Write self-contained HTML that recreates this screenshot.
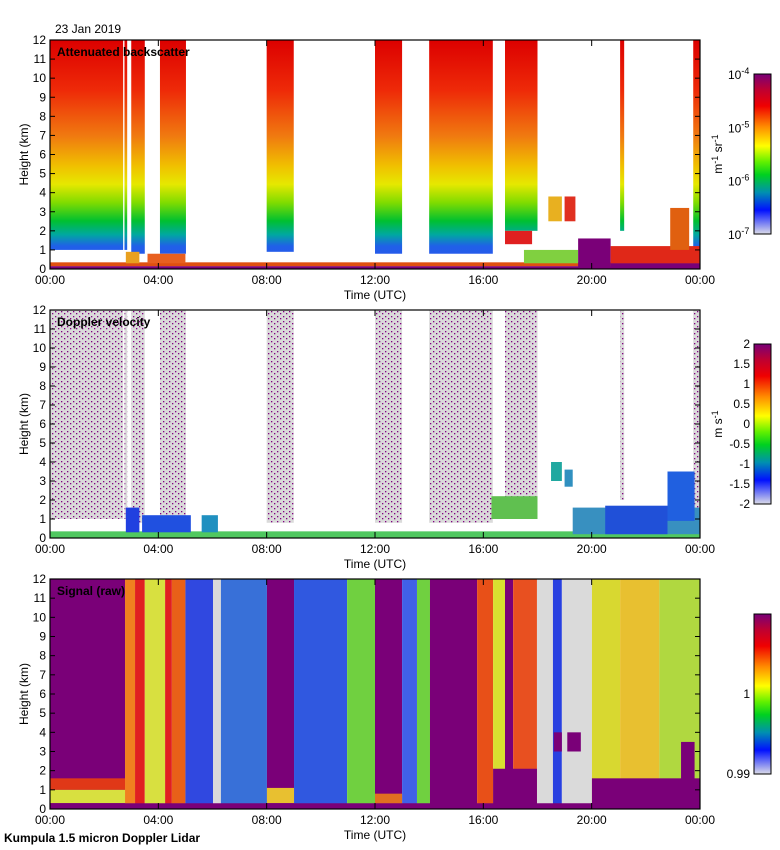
<!DOCTYPE html>
<html><head><meta charset="utf-8">
<style>
html,body{margin:0;padding:0;background:#fff;}
svg{display:block;font-family:"Liberation Sans",sans-serif;}
</style></head>
<body>
<svg id="chart" width="780" height="850" viewBox="0 0 780 850" xmlns="http://www.w3.org/2000/svg">
<defs>
<linearGradient id="bsProfile" gradientUnits="userSpaceOnUse" x1="0" y1="40" x2="0" y2="269">
<stop offset="0" stop-color="#dc0000"/><stop offset="0.22" stop-color="#ee2a08"/>
<stop offset="0.42" stop-color="#f07a10"/><stop offset="0.55" stop-color="#f0c000"/>
<stop offset="0.63" stop-color="#e6e800"/><stop offset="0.71" stop-color="#80dc00"/>
<stop offset="0.79" stop-color="#00c030"/><stop offset="0.85" stop-color="#00a8a0"/>
<stop offset="0.9" stop-color="#2060e8"/><stop offset="1" stop-color="#3050f0"/>
</linearGradient>
<linearGradient id="cbBs" x1="0" y1="0" x2="0" y2="1">
<stop offset="0" stop-color="#780078"/><stop offset="0.1" stop-color="#c00030"/>
<stop offset="0.2" stop-color="#f00000"/><stop offset="0.33" stop-color="#ff8c00"/>
<stop offset="0.45" stop-color="#ffff00"/><stop offset="0.55" stop-color="#60f000"/>
<stop offset="0.63" stop-color="#00d020"/><stop offset="0.74" stop-color="#0090b0"/>
<stop offset="0.85" stop-color="#0010ff"/><stop offset="1" stop-color="#dcdce8"/>
</linearGradient>
<pattern id="dots" width="6" height="5" patternUnits="userSpaceOnUse">
<rect width="6" height="5" fill="#dadada"/><rect x="1" y="1" width="1.3" height="1.3" fill="#800080"/><rect x="4" y="3" width="1.3" height="1.3" fill="#800080"/>
</pattern>
</defs>
<text x="55" y="33" font-size="12">23 Jan 2019</text>
<g id="p1"></g>
<g id="p2"></g>
<g id="p3"></g>
<text x="4" y="842" font-size="12" font-weight="bold">Kumpula 1.5 micron Doppler Lidar</text>
</svg>
<script>
// ---- data (hours, km) ----
const timeTicks = ["00:00","04:00","08:00","12:00","16:00","20:00","00:00"];
const heightTicks = [0,1,2,3,4,5,6,7,8,9,10,11,12];
// backscatter clear-air columns
const bsStart = [0, 2.75, 3.0, 4.06, 8.0, 12.0, 14.0, 16.8, 21.05, 23.75];
const bsEnd   = [2.7, 2.85, 3.5, 5.02, 9.0, 13.0, 16.35, 18.0, 21.2, 24];
const bsBase  = [1.0, 1.0, 0.8, 0.8, 0.9, 0.8, 0.8, 2.0, 2.0, 0.9];
// backscatter blobs
const bbStart = [0, 0, 2.8, 3.6, 16.8, 17.5, 18.4, 19.0, 19.5, 20.7, 20.7, 22.9];
const bbEnd   = [24, 24, 3.3, 5.0, 17.8, 19.5, 18.9, 19.4, 20.7, 24, 24, 23.6];
const bbLow   = [0, 0.15, 0.3, 0.3, 1.3, 0.3, 2.5, 2.5, 0, 0.3, 0, 1.0];
const bbHigh  = [0.15, 0.35, 0.9, 0.8, 2.0, 1.0, 3.8, 3.8, 1.6, 1.2, 0.3, 3.2];
const bbColor = ["#7a0078","#e05010","#e8a020","#e86020","#e02020","#80d040","#e8b020","#e03020","#7a0078","#e02818","#7a0078","#e06010"];
// doppler
const dvStart = [0, 2.75, 3.0, 4.06, 8.0, 12.0, 14.0, 16.8, 21.05, 23.75];
const dvEnd   = [2.7, 2.85, 3.5, 5.02, 9.0, 13.0, 16.35, 18.0, 21.2, 24];
const dvBase  = [1.0, 1.0, 0.8, 0.8, 0.8, 0.8, 0.8, 2.0, 2.0, 0.9];
const dbStart = [0, 2.8, 3.4, 5.6, 16.3, 18.5, 19.0, 19.3, 20.5, 22.8];
const dbEnd   = [24, 3.3, 5.2, 6.2, 18.0, 18.9, 19.3, 24, 22.8, 23.8];
const dbLow   = [0, 0.3, 0.3, 0.3, 1.0, 3.0, 2.7, 0.2, 0.2, 0.9];
const dbHigh  = [0.35, 1.6, 1.2, 1.2, 2.2, 4.0, 3.6, 1.6, 1.7, 3.5];
const dbColor = ["#50c860","#2040e0","#2050e0","#2090c0","#60c050","#20a8a0","#3090c0","#3890c0","#2050d8","#2060e0"];
// signal stripes
const sgStart = [0, 2.77, 3.14, 3.5, 4.25, 4.5, 5.0, 6.02, 6.31, 8.01, 9.01, 10.97, 12.0, 13.0, 13.55, 14.03, 15.77, 16.36, 16.8, 17.1, 17.98, 18.57, 18.9, 20.01, 21.05, 22.5];
const sgEnd   = [2.77, 3.14, 3.5, 4.25, 4.5, 5.0, 6.02, 6.31, 8.01, 9.01, 10.97, 12.0, 13.0, 13.55, 14.03, 15.77, 16.36, 16.8, 17.1, 17.98, 18.57, 18.9, 20.01, 21.05, 22.5, 24];
const sgColor = ["#7a0078","#f08020","#e02020","#d8e040","#e02020","#e86018","#3048e0","#dadada","#3870d8","#7a0078","#3058e0","#70d040","#7a0078","#4060e8","#70d040","#7a0078","#e85018","#d8e030","#7a0078","#e85020","#dadada","#2840e0","#dadada","#d8d830","#e8c030","#b0d840"];
// signal low features
const slStart = [0, 0, 0, 8.01, 8.01, 0, 16.36, 20.01, 23.3, 18.6, 19.1, 12.0];
const slEnd   = [2.77, 2.77, 2.77, 9.01, 9.01, 24, 17.98, 24, 23.8, 18.9, 19.6, 13.0];
const slLow   = [1.0, 0.3, 0.0, 0.3, 0.0, 0, 0, 0, 0, 3.0, 3.0, 0.3];
const slHigh  = [1.6, 1.0, 0.3, 1.1, 0.3, 0.3, 2.1, 1.6, 3.5, 4.0, 4.0, 0.8];
const slColor = ["#e03818","#d8e040","#7a0078","#e8c030","#7a0078","#7a0078","#7a0078","#7a0078","#7a0078","#7a0078","#7a0078","#e07020"];
// colorbars
const cb1Labels = ["-4","-5","-6","-7"];
const cb2Labels = ["2","1.5","1","0.5","0","-0.5","-1","-1.5","-2"];
const cb3Labels = ["1","0.99"];

const NS="http://www.w3.org/2000/svg";
const X0=50, X1=700;
const panels=[{g:"p1",top:40,bot:269,title:"Attenuated backscatter"},{g:"p2",top:310,bot:538,title:"Doppler velocity"},{g:"p3",top:579,bot:809,title:"Signal (raw)"}];
function xs(h){return X0+h*(X1-X0)/24;}
function ys(p,km){return p.bot-km*(p.bot-p.top)/12;}
function mk(parent,tag,attrs){const e=document.createElementNS(NS,tag);for(const k in attrs)e.setAttribute(k,attrs[k]);parent.appendChild(e);return e;}
function box(p,g,h0,h1,k0,k1,fill){
  return mk(g,"rect",{x:xs(h0),y:ys(p,k1),width:xs(h1)-xs(h0),height:ys(p,k0)-ys(p,k1),fill:fill});
}
// panel 1
(function(){const p=panels[0],g=document.getElementById(p.g);
 for(let i=0;i<bsStart.length;i++){const r=box(p,g,bsStart[i],bsEnd[i],bsBase[i],12,"url(#bsProfile)");
  
  }
 for(let i=0;i<bbStart.length;i++){const r=box(p,g,bbStart[i],bbEnd[i],bbLow[i],bbHigh[i],bbColor[i]);
  
  }
})();
// panel 2
(function(){const p=panels[1],g=document.getElementById(p.g);
 for(let i=0;i<dvStart.length;i++){const r=box(p,g,dvStart[i],dvEnd[i],dvBase[i],12,"url(#dots)");
  
  }
 for(let i=0;i<dbStart.length;i++){const r=box(p,g,dbStart[i],dbEnd[i],dbLow[i],dbHigh[i],dbColor[i]);
  
  }
})();
// panel 3
(function(){const p=panels[2],g=document.getElementById(p.g);
 for(let i=0;i<sgStart.length;i++){const r=box(p,g,sgStart[i],sgEnd[i],0,12,sgColor[i]);
  
  }
 for(let i=0;i<slStart.length;i++){const r=box(p,g,slStart[i],slEnd[i],slLow[i],slHigh[i],slColor[i]);
  
  }
})();
// axes
panels.forEach((p,pi)=>{const g=document.getElementById(p.g);
 const fr=mk(g,"rect",{x:X0,y:p.top,width:X1-X0,height:p.bot-p.top,fill:"none",stroke:"#000","stroke-width":1.2});
 
 
 const t=mk(g,"text",{x:57,y:p.top+16,"font-size":12,"font-weight":"bold"});t.textContent=p.title;
 
 
 heightTicks.forEach(k=>{const y=ys(p,k);
  mk(g,"line",{x1:X0,x2:X0+5,y1:y,y2:y,stroke:"#000"});mk(g,"line",{x1:X1-5,x2:X1,y1:y,y2:y,stroke:"#000"});
  const l=mk(g,"text",{x:46,y:y+4,"font-size":12,"text-anchor":"end"});l.textContent=k;
  
  });
 timeTicks.forEach((s,i)=>{const x=xs(i*4);
  mk(g,"line",{x1:x,x2:x,y1:p.top,y2:p.top+6,stroke:"#000"});mk(g,"line",{x1:x,x2:x,y1:p.bot-6,y2:p.bot,stroke:"#000"});
  const l=mk(g,"text",{x:x,y:p.bot+15,"font-size":12,"text-anchor":"middle"});l.textContent=s;
  
  });
 const xt=mk(g,"text",{x:375,y:p.bot+30,"font-size":12,"text-anchor":"middle"});xt.textContent="Time (UTC)";
 
 
 const cy=(p.top+p.bot)/2;
 const yt=mk(g,"text",{x:28,y:cy,"font-size":12,"text-anchor":"middle",transform:`rotate(-90 28 ${cy})`});yt.textContent="Height (km)";
 
 
});
// colorbars
function colorbar(g,top){
 const r=mk(g,"rect",{x:754,y:top,width:17,height:160,fill:"url(#cbBs)",stroke:"#000"});
 
 
 return r;}
(function(){const g=document.getElementById("p1");colorbar(g,74);
 cb1Labels.forEach((s,i)=>{const y=74+i*160/3+5;const t=mk(g,"text",{x:728,y:y,"font-size":12});
  t.innerHTML='10<tspan dy="-5" font-size="9">'+s+'</tspan>';
  
  });
 const u=mk(g,"text",{x:722,y:154,"font-size":12,"text-anchor":"middle",transform:"rotate(-90 722 154)"});
 u.innerHTML='m<tspan dy="-4" font-size="9">-1</tspan><tspan dy="4"> sr</tspan><tspan dy="-4" font-size="9">-1</tspan>';
 
 })();
(function(){const g=document.getElementById("p2");colorbar(g,344);
 cb2Labels.forEach((s,i)=>{const y=344+i*20+4;const t=mk(g,"text",{x:750,y:y,"font-size":12,"text-anchor":"end"});t.textContent=s;
  
  });
 const u=mk(g,"text",{x:722,y:424,"font-size":12,"text-anchor":"middle",transform:"rotate(-90 722 424)"});
 u.innerHTML='m s<tspan dy="-4" font-size="9">-1</tspan>';
 
 })();
(function(){const g=document.getElementById("p3");colorbar(g,614);
 [[cb3Labels[0],698],[cb3Labels[1],778]].forEach(a=>{const t=mk(g,"text",{x:750,y:a[1],"font-size":12,"text-anchor":"end"});t.textContent=a[0];
  
  });})();
</script>
</body></html>
